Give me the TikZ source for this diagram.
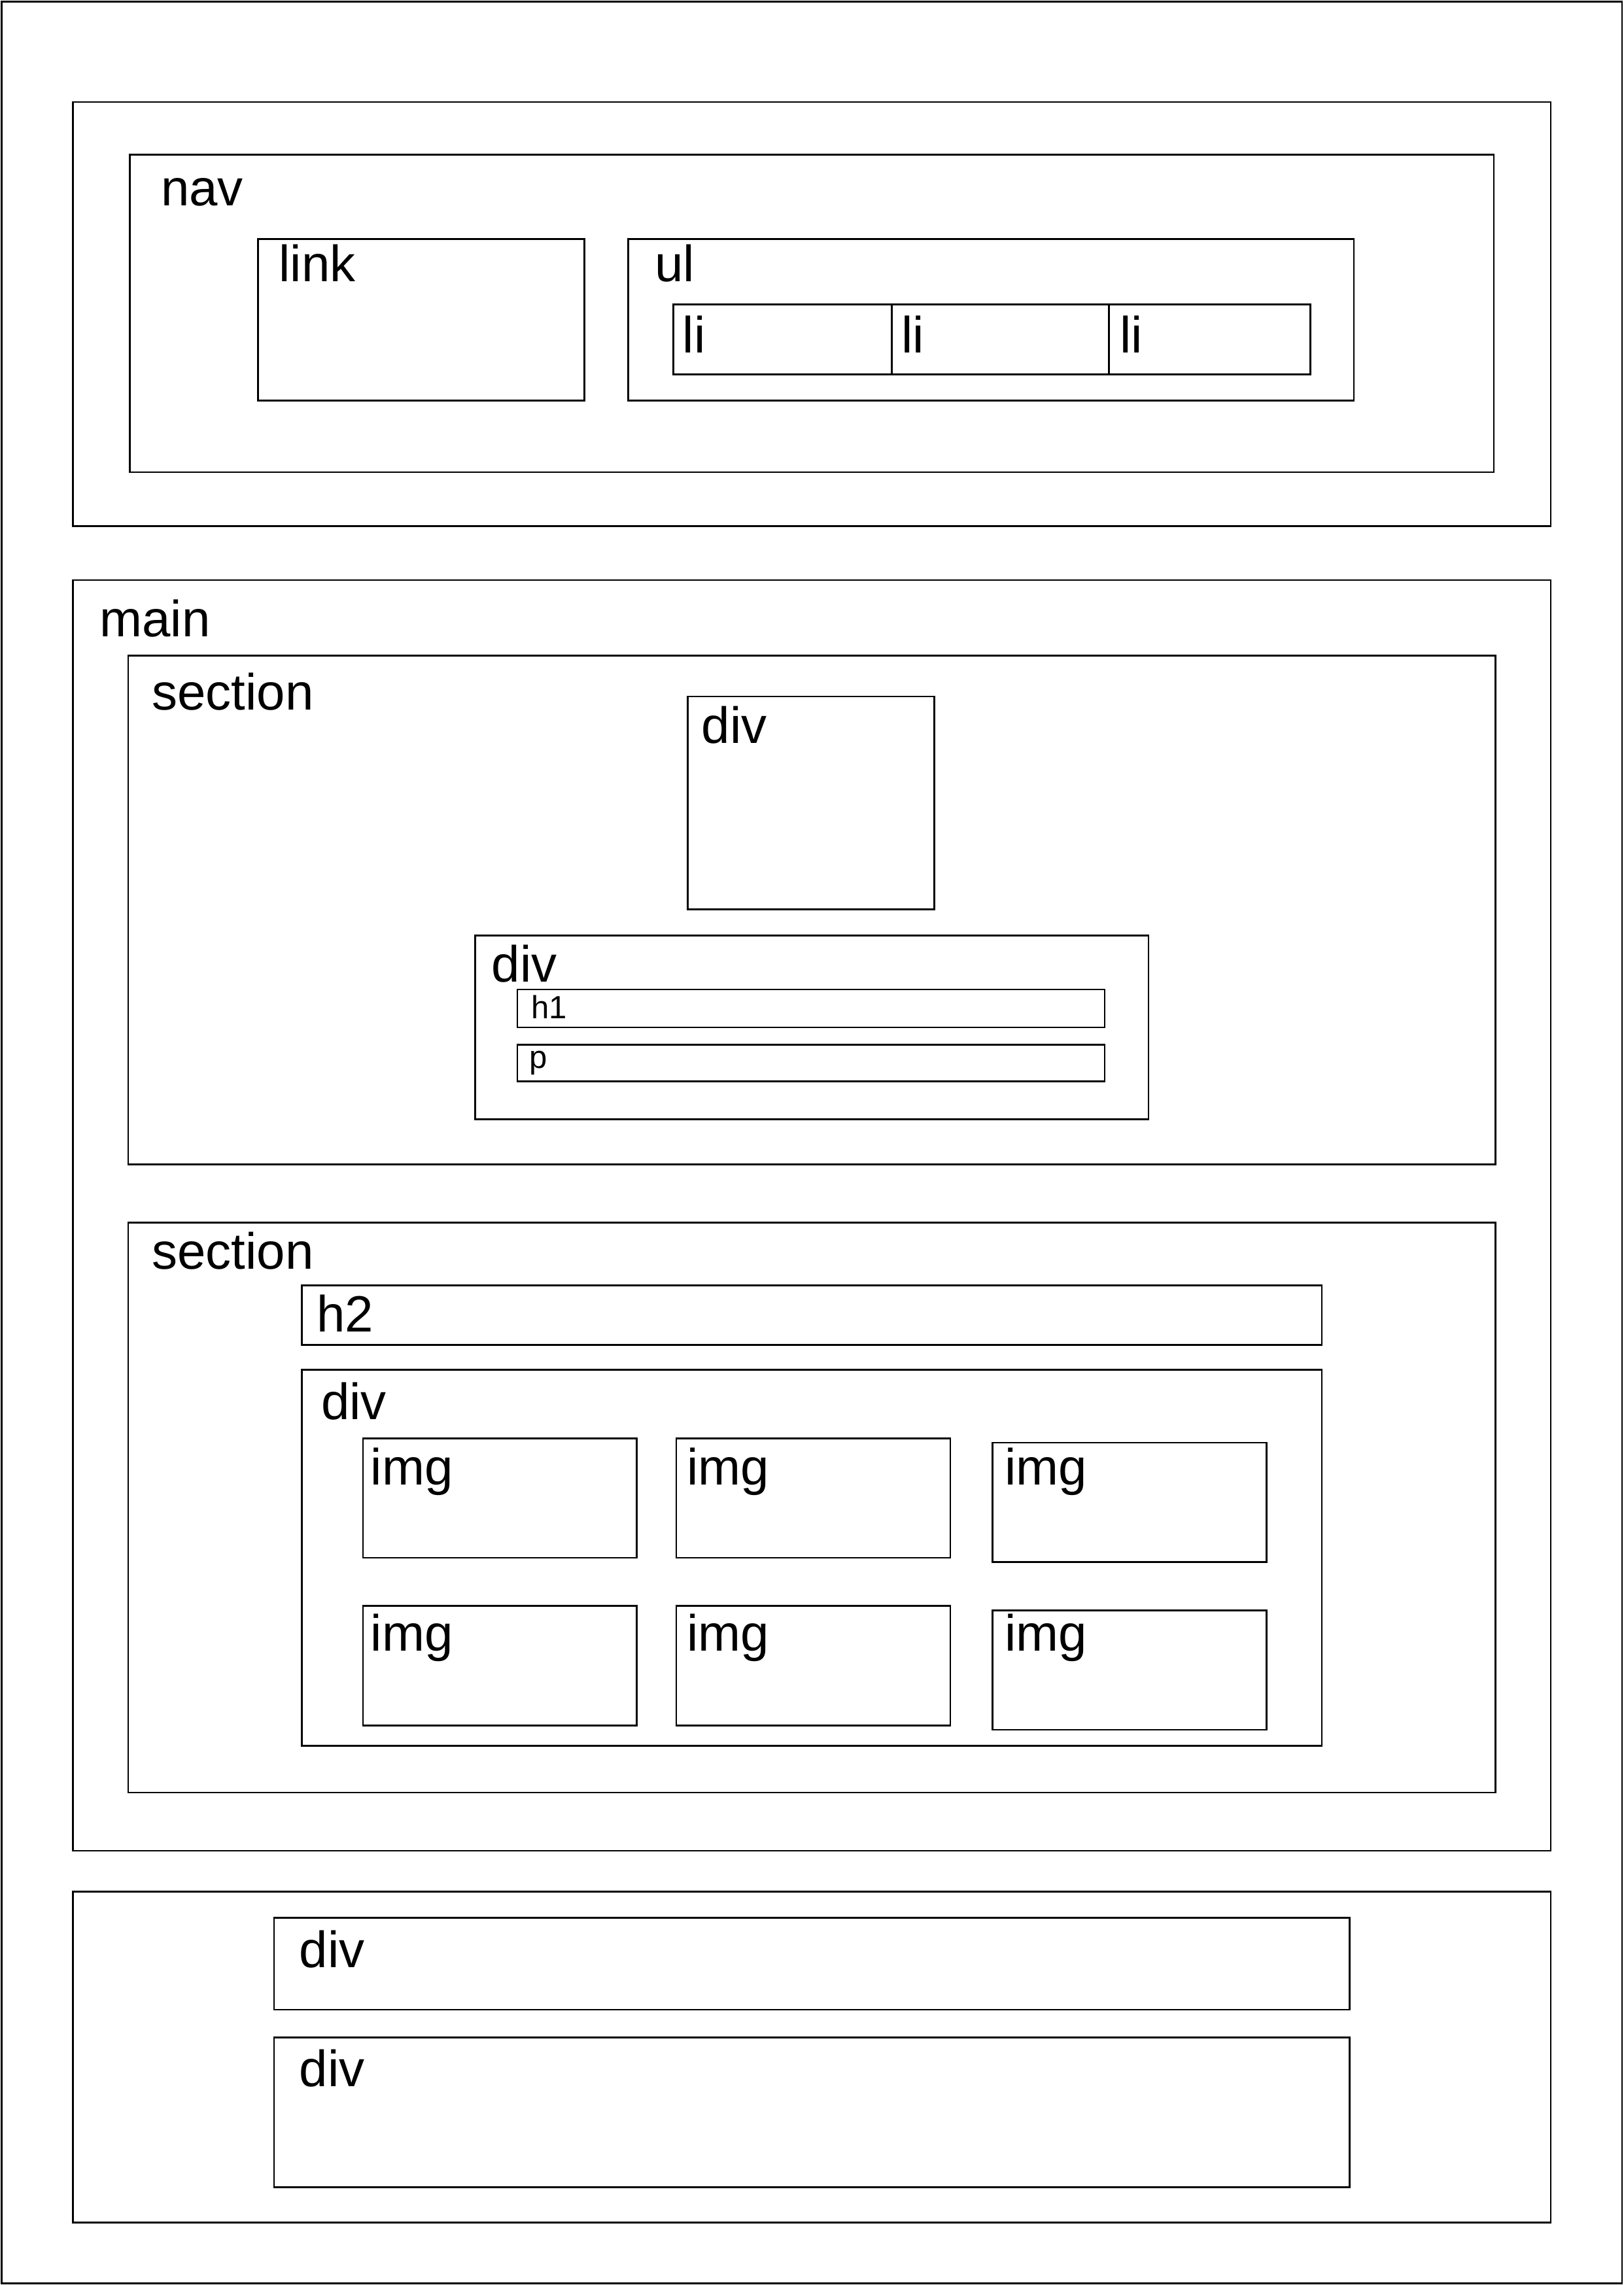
\documentclass[tikz,border=0pt]{standalone}
\usepackage{fontspec}
\setmainfont{Liberation Sans}
\begin{document}
\begin{tikzpicture}[x=0.5pt,y=-0.5pt,
  box/.style={draw=black,line width=0.6pt},
  lbl/.style={anchor=base west,inner sep=0pt,font=\fontsize{17.5}{21}\selectfont},
  slbl/.style={anchor=base west,inner sep=0pt,font=\fontsize{11}{13}\selectfont}]
\useasboundingbox (0,0) rectangle (1114,1568);
% page border
\draw[box] (1,1) rectangle (1113,1567);
% header
\draw[box] (50,70) rectangle (1064,361);
\draw[box] (89,106) rectangle (1025,324);
\node[lbl] (navl) at (110,141) {nav};
\draw[box] (177,164) rectangle (401,275);
\node[lbl] (linkl) at (191,193) {link};
\draw[box] (431,164) rectangle (929,275);
\node[lbl] (ull) at (449,193) {ul};
\draw[box] (462,209) rectangle (612,257);
\draw[box] (612,209) rectangle (761,257);
\draw[box] (761,209) rectangle (899,257);
\node[lbl] (li1) at (468,242) {li};
\node[lbl] (li2) at (618,242) {li};
\node[lbl] (li3) at (768,242) {li};
% main
\draw[box] (50,398) rectangle (1064,1270);
\node[lbl] (mainl) at (68,437) {main};
\draw[box] (88,450) rectangle (1026,799);
\node[lbl] (sec1) at (104,487) {section};
\draw[box] (472,478) rectangle (641,624);
\node[lbl] (div1) at (481,510) {div};
\draw[box] (326,642) rectangle (788,768);
\node[lbl] (div2) at (337,674) {div};
\draw[box] (355,679) rectangle (758,705);
\node[slbl] (h1l) at (364,699) {h1};
\draw[box] (355,717) rectangle (758,742);
\node[slbl] (pl) at (363,733) {p};
\draw[box] (88,839) rectangle (1026,1230);
\node[lbl] (sec2) at (104,871) {section};
\draw[box] (207,882) rectangle (907,923);
\node[lbl] (h2l) at (217,914) {h2};
\draw[box] (207,940) rectangle (907,1198);
\node[lbl] (div3) at (220,974) {div};
\draw[box] (249,987) rectangle (437,1069);
\draw[box] (464,987) rectangle (652,1069);
\draw[box] (681,990) rectangle (869,1072);
\node[lbl] (img1) at (254,1019) {img};
\node[lbl] (img2) at (471,1019) {img};
\node[lbl] (img3) at (689,1019) {img};
\draw[box] (249,1102) rectangle (437,1184);
\draw[box] (464,1102) rectangle (652,1184);
\draw[box] (681,1105) rectangle (869,1187);
\node[lbl] (img4) at (254,1133) {img};
\node[lbl] (img5) at (471,1133) {img};
\node[lbl] (img6) at (689,1133) {img};
% footer
\draw[box] (50,1298) rectangle (1064,1525);
\draw[box] (188,1316) rectangle (926,1379);
\node[lbl] (div4) at (205,1350) {div};
\draw[box] (188,1398) rectangle (926,1501);
\node[lbl] (div5) at (205,1432) {div};
\end{tikzpicture}
\end{document}
